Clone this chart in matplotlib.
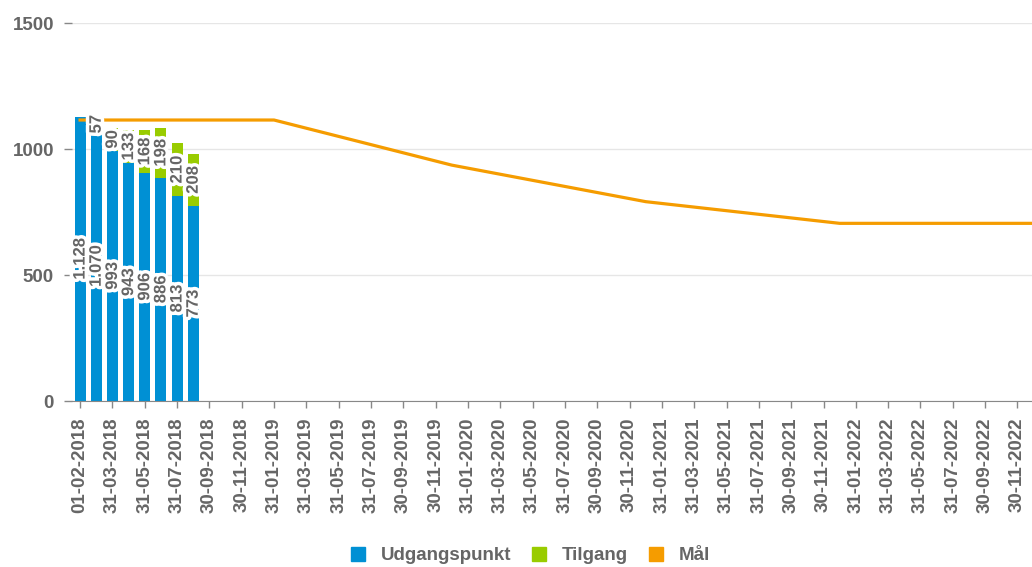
import numpy as np
import pandas as pd
import matplotlib
matplotlib.use("Agg")
import matplotlib.pyplot as plt
import matplotlib.patheffects as pe
from matplotlib.lines import Line2D

plt.rcParams['font.family'] = ['Liberation Sans', 'DejaVu Sans']

# kategorier: startdato efterfulgt af månedsultimo
kategorier = ["01-02-2018"] + [d.strftime("%d-%m-%Y") for d in
                               pd.date_range("2018-02-28", "2022-12-31", freq="ME")]

udgangspunkt = [1128, 1070, 993, 943, 906, 886, 813, 773]
tilgang = [0, 57, 90, 133, 168, 198, 210, 208]

maal_datoer = ["01-02-2018", "31-01-2019", "31-12-2019", "31-12-2020", "31-12-2021", "31-12-2022"]
maal = [1115, 1115, 936, 791, 705, 705]

BLAA = "#0090d4"
GROEN = "#99cc00"
ORANGE = "#f59c00"
GRAA = "#666666"


def fmt(v):
    return f"{v:,}".replace(",", ".")


fig = plt.figure(figsize=(10.32, 5.67), dpi=100)
ax = fig.add_axes([72 / 1032, 1 - 401 / 567, 1 - 72 / 1032, (401 - 23) / 567])

x = np.arange(len(udgangspunkt))
ax.bar(x, udgangspunkt, width=0.68, color=BLAA, zorder=2)
ax.bar(x, tilgang, bottom=udgangspunkt, width=0.68, color=GROEN, zorder=2)

mx = [kategorier.index(d) for d in maal_datoer]
ax.plot(mx, maal, color=ORANGE, lw=2.3, zorder=3, solid_joinstyle='round')

# dataetiketter med hvid kant
stroke = [pe.withStroke(linewidth=5, foreground='white')]
for i in range(len(udgangspunkt)):
    ax.text(i, udgangspunkt[i] / 2, fmt(udgangspunkt[i]), rotation=90, ha='center', va='center',
            fontsize=12, fontweight='bold', color=GRAA, path_effects=stroke, zorder=4)
    if tilgang[i]:
        ax.text(i, udgangspunkt[i] + tilgang[i] / 2, fmt(tilgang[i]), rotation=90, ha='center',
                va='center', fontsize=12, fontweight='bold', color=GRAA, path_effects=stroke, zorder=4)

ax.set_xticks(range(0, len(kategorier), 2))
ax.set_xticklabels(kategorier[::2], rotation=90, fontsize=13.5, fontweight='bold', color=GRAA)
ax.set_xlim(-0.5, 58.9)

ax.set_ylim(0, 1500)
ax.set_yticks([0, 500, 1000, 1500])
ax.set_yticklabels(["0", "500", "1000", "1500"], fontsize=13.5, fontweight='bold', color=GRAA)

ax.grid(axis='y', color='#e6e6e6', lw=1, zorder=0)
ax.set_axisbelow(True)
for s in ['top', 'right', 'left']:
    ax.spines[s].set_visible(False)
ax.spines['bottom'].set_color('#888888')
ax.tick_params(axis='y', length=6, width=1, color='#888888', pad=7)
ax.tick_params(axis='x', length=5, width=1, color='#888888', pad=7)

handles = [
    Line2D([], [], marker='s', linestyle='', markersize=10, color=BLAA, label='Udgangspunkt'),
    Line2D([], [], marker='s', linestyle='', markersize=10, color=GROEN, label='Tilgang'),
    Line2D([], [], marker='s', linestyle='', markersize=10, color=ORANGE, label='Mål'),
]
leg = fig.legend(handles=handles, loc='center', bbox_to_anchor=(0.514, 0.02), ncol=3, frameon=False,
                 handlelength=0.8, handletextpad=0.8, columnspacing=1.1,
                 prop={'size': 13.5, 'weight': 'bold'})
for t in leg.get_texts():
    t.set_color(GRAA)

fig.savefig("out.png", dpi=100)
